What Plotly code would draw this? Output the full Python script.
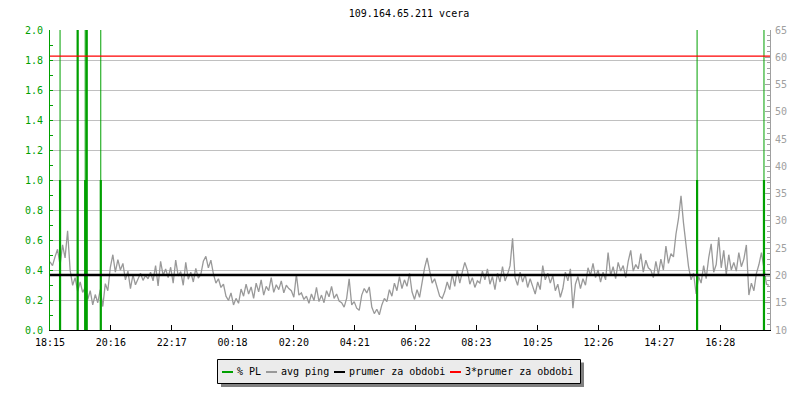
import plotly.graph_objects as go

# ---------------- data ----------------
title_text = "109.164.65.211 vcera"
x_tick_labels = ["18:15", "20:16", "22:17", "00:18", "02:20", "04:21",
                 "06:22", "08:23", "10:25", "12:26", "14:27", "16:28"]
start_label = "18:15"
span_minutes = 1432
step_minutes = 5

# avg ping [ms], one value per 5-minute step
avg_ping = [
    22.5, 21.8, 23.4, 24.8, 21.9, 25.6, 23.2, 28.2, 21.0,
    18.2, 19.6, 17.1, 18.8, 16.9,
    17.8, 15.6, 17.2, 14.6, 16.5, 15.0, 17.4, 14.3,
    18.5, 17.2,
    21.5, 23.8, 20.6, 22.9, 21.0, 22.2,
    19.2, 20.8, 17.6, 20.1, 18.3,
    19.5, 20.4, 19.1, 20.0, 19.4, 20.6,
    19.0, 21.8, 18.1, 22.6, 20.0, 21.2, 19.6,
    21.5, 18.6, 22.8, 19.9, 20.7, 18.2, 22.4, 19.3,
    20.6, 18.8, 21.3, 19.5, 20.2, 22.6,
    23.5, 21.4, 22.8, 20.3,
    18.6, 19.4, 17.8, 18.4,
    16.2, 15.4, 16.8, 14.6, 15.8, 14.9,
    17.5, 16.2, 18.4, 16.6, 17.9, 15.8, 18.6, 17.0,
    19.2, 16.4, 18.0, 17.2, 19.6, 16.9,
    18.3, 17.4, 19.0, 16.8, 18.2, 17.6,
    17.2, 16.0, 20.2, 16.4,
    16.8, 15.6, 16.2, 14.9, 16.6, 15.4, 17.8, 15.2,
    16.4, 15.0, 17.2, 16.1, 18.0, 15.8, 16.6, 15.3,
    15.0, 14.2, 15.8, 19.4, 14.6, 15.2,
    14.0, 13.6, 16.4, 17.6, 16.8,
    17.9, 14.2, 13.0, 13.8,
    12.8, 14.6, 15.8, 15.2,
    17.4, 16.2, 18.6, 17.2, 19.8,
    17.6, 19.2, 18.0, 20.4,
    17.0, 15.6, 17.4, 16.0, 18.6,
    21.4, 23.2, 20.8,
    18.6, 19.4, 17.6,
    16.2, 15.8, 17.0,
    18.8, 17.4, 20.2, 18.0, 21.0, 18.6,
    20.6, 22.4, 21.0,
    18.4, 19.6, 17.8, 19.0,
    18.6, 20.8, 19.2, 21.2, 18.4, 19.8, 17.4, 20.4, 18.8, 21.6, 19.0, 20.2,
    21.8, 26.8,
    19.6, 18.2, 20.6, 18.8, 20.2, 17.8, 19.4,
    18.0, 16.6, 18.8, 17.4,
    21.8, 19.2, 20.4, 18.6, 20.0,
    17.2, 18.4, 16.0, 17.6,
    20.6, 19.0, 21.2, 14.0,
    18.4, 19.8, 17.6, 19.4, 18.2,
    21.4, 20.0, 22.2, 19.6, 21.0,
    18.8, 20.6, 19.2, 24.2, 20.0,
    21.6, 19.4, 22.4, 20.8, 21.8, 19.6, 22.6,
    24.6,
    20.8, 22.0, 21.2, 24.0, 20.6, 22.8, 21.4,
    21.0, 19.6, 22.6, 20.2,
    23.0, 21.0, 25.4, 22.2, 24.0,
    23.4, 27.6, 30.4,
    34.6, 29.6, 25.8,
    21.6, 19.2, 20.4,
    16.6, 19.8, 18.6,
    21.8, 19.4, 23.2, 25.8, 20.6, 22.0, 27.0,
    21.4, 24.6, 20.2, 23.8, 21.0,
    22.4, 20.8, 24.2, 21.6, 23.0, 25.6, 16.4,
    18.6, 17.2, 20.4,
    22.0, 24.2, 21.0, 18.4,
    18.2,
]
period_avg_ping = 20.07          # "prumer za obdobi" [ms]

# packet loss events: minute offset, average loss [%], max loss [%]
pl_times = [20, 55, 70, 73, 101, 1287, 1420]
pl_avg = [1.0, 5.0, 1.0, 5.0, 1.0, 1.0, 1.0]
pl_max = [5.0, 5.0, 5.0, 5.0, 5.0, 5.0, 5.0]

left_ticks = [0.0, 0.2, 0.4, 0.6, 0.8, 1.0, 1.2, 1.4, 1.6, 1.8, 2.0]
right_ticks = [10, 15, 20, 25, 30, 35, 40, 45, 50, 55, 60, 65]
legend_labels = ["% PL", "avg ping", "prumer za obdobi", "3*prumer za obdobi"]

# ---------------- styles ----------------
GREEN = "#00a000"
GRAY = "#999999"
AXGRAY = "#a0a0a0"
FONT = "DejaVu Sans Mono"


def minutes_of(label):
    h, m = label.split(":")
    sh, sm = start_label.split(":")
    return (int(h) * 60 + int(m) - (int(sh) * 60 + int(sm))) % 1440


x_tick_vals = [minutes_of(l) for l in x_tick_labels]
ping_x = [i * step_minutes for i in range(len(avg_ping))]


def segments(times, values):
    xs, ys = [], []
    for t, v in zip(times, values):
        xs += [t, t, None]
        ys += [0, v, None]
    return xs, ys


fig = go.Figure()

# anchor trace for the main (left) axis, draws nothing
fig.add_trace(go.Scatter(x=[0], y=[0], yaxis="y", mode="lines",
                         line=dict(width=0), showlegend=False, hoverinfo="skip"))

# gray avg ping (right axis)
fig.add_trace(go.Scatter(x=ping_x, y=avg_ping, yaxis="y2", mode="lines",
                         line=dict(color=GRAY, width=1.3),
                         name=legend_labels[1], showlegend=False, hoverinfo="skip"))

# packet loss (left scale, drawn above ping)
mx, my = segments(pl_times, pl_max)
fig.add_trace(go.Scatter(x=mx, y=my, yaxis="y3", mode="lines",
                         line=dict(color=GREEN, width=1), name=legend_labels[0],
                         showlegend=False, hoverinfo="skip"))
ax_, ay_ = segments(pl_times, pl_avg)
fig.add_trace(go.Scatter(x=ax_, y=ay_, yaxis="y3", mode="lines",
                         line=dict(color=GREEN, width=2.2), name=legend_labels[0],
                         showlegend=False, hoverinfo="skip"))

# average and 3*average
fig.add_trace(go.Scatter(x=[0, span_minutes], y=[period_avg_ping] * 2, yaxis="y4",
                         mode="lines", line=dict(color="black", width=2.5),
                         name=legend_labels[2], showlegend=False, hoverinfo="skip"))
fig.add_trace(go.Scatter(x=[0, span_minutes], y=[3 * period_avg_ping] * 2, yaxis="y4",
                         mode="lines", line=dict(color="red", width=1.3),
                         name=legend_labels[3], showlegend=False, hoverinfo="skip"))

fig.update_layout(
    width=800, height=400,
    margin=dict(l=50, r=30, t=30, b=70, autoexpand=False),
    paper_bgcolor="white", plot_bgcolor="white",
    showlegend=False,
    title=dict(text=title_text, x=409 / 800, xanchor="center",
               y=1 - 13.5 / 400, yanchor="middle",
               font=dict(family=FONT, size=10, color="black")),
    xaxis=dict(range=[0, span_minutes], tickvals=x_tick_vals, ticktext=x_tick_labels,
               showgrid=False, zeroline=False, showline=True, linecolor="black",
               linewidth=1, ticks="inside", ticklen=5, tickcolor="black",
               tickfont=dict(family=FONT, size=10, color="black"), fixedrange=True,
               ticklabelstandoff=3, automargin=False),
    yaxis=dict(range=[0, 2], tickvals=left_ticks,
               ticktext=["%.1f" % v for v in left_ticks],
               showgrid=True, gridcolor="#c0c0c0", gridwidth=1, zeroline=False,
               showline=True, linecolor=GREEN, linewidth=1,
               ticks="inside", ticklen=3, tickcolor=GREEN,
               minor=dict(dtick=0.1, ticks="inside", ticklen=3, tickcolor=GREEN,
                          showgrid=False),
               tickfont=dict(family=FONT, size=10, color=GREEN),
               ticklabelstandoff=4, fixedrange=True, automargin=False),
    yaxis2=dict(range=[10, 65], overlaying="y", side="right", tickvals=right_ticks,
                showgrid=False, zeroline=False, showline=True, linecolor=AXGRAY,
                linewidth=1, ticks="inside", ticklen=5, tickcolor=AXGRAY,
                minor=dict(dtick=1, ticks="inside", ticklen=3, tickcolor=AXGRAY,
                           showgrid=False),
                tickfont=dict(family=FONT, size=10, color=AXGRAY),
                ticklabelstandoff=2, fixedrange=True, automargin=False),
    yaxis3=dict(range=[0, 2], overlaying="y", visible=False, fixedrange=True),
    yaxis4=dict(range=[10, 65], overlaying="y", visible=False, fixedrange=True),
)

# ---------------- manual legend ----------------
def px(xp):
    return (xp - 50) / 720


def py(yp):
    return (330 - yp) / 300


fig.add_shape(type="rect", xref="paper", yref="paper",
              x0=px(221), x1=px(584), y0=py(362.5), y1=py(387),
              fillcolor="#808080", line=dict(width=0), layer="above")
fig.add_shape(type="rect", xref="paper", yref="paper",
              x0=px(217.5), x1=px(580.5), y0=py(359.5), y1=py(383.5),
              fillcolor="#ebebeb", line=dict(color="black", width=1), layer="above")

legend_colors = [GREEN, GRAY, "black", "red"]
sample_x = [222, 266, 334, 450]
text_x = [235, 279, 347, 463]
for lab, col, sx, tx in zip(legend_labels, legend_colors, sample_x, text_x):
    fig.add_shape(type="line", xref="paper", yref="paper",
                  x0=px(sx), x1=px(sx + 11), y0=py(372), y1=py(372),
                  line=dict(color=col, width=2), layer="above")
    fig.add_annotation(text=lab, xref="paper", yref="paper", x=px(tx), y=py(371),
                       xanchor="left", yanchor="middle", showarrow=False,
                       font=dict(family=FONT, size=10, color="black"))

fig.write_html("out.html", config={"displayModeBar": False},
               post_script="document.body.style.margin='0';"
                           "document.body.style.overflow='hidden';")
